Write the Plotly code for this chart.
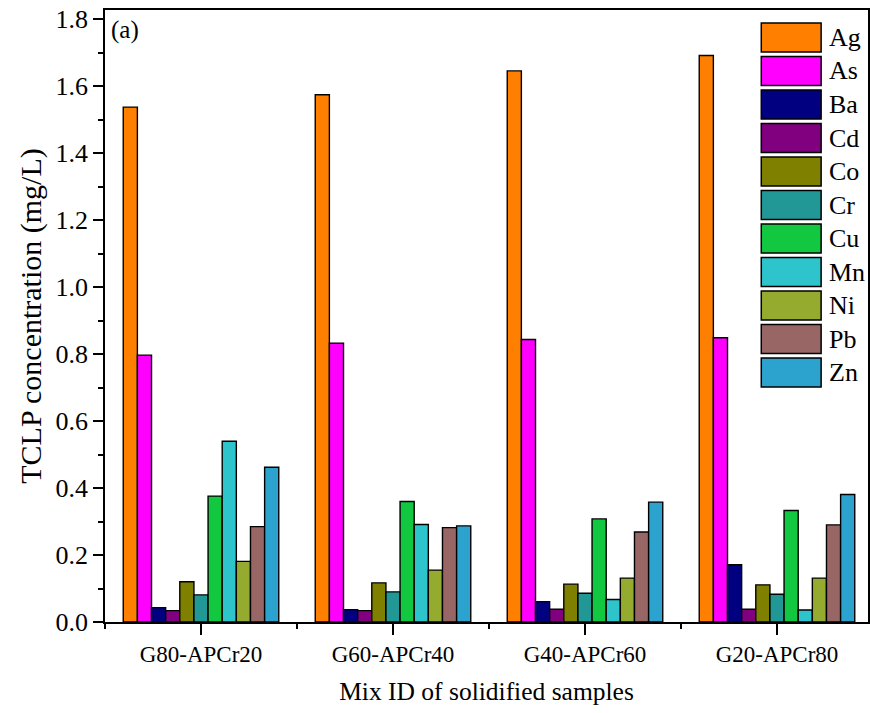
import plotly.graph_objects as go

# Solidified sample mixes (x categories)
mixes = ["G80-APCr20", "G60-APCr40", "G40-APCr60", "G20-APCr80"]

# Elements analysed by TCLP
elements = ["Ag", "As", "Ba", "Cd", "Co", "Cr", "Cu", "Mn", "Ni", "Pb", "Zn"]

# TCLP leachate concentration (mg/L) per element, one value per mix
ag = [1.538, 1.575, 1.646, 1.692]
as_ = [0.797, 0.833, 0.844, 0.849]
ba = [0.043, 0.037, 0.061, 0.171]
cd = [0.034, 0.034, 0.038, 0.038]
co = [0.120, 0.117, 0.113, 0.111]
cr = [0.081, 0.090, 0.086, 0.083]
cu = [0.376, 0.360, 0.308, 0.333]
mn = [0.540, 0.291, 0.067, 0.036]
ni = [0.181, 0.155, 0.131, 0.131]
pb = [0.285, 0.282, 0.269, 0.290]
zn = [0.462, 0.287, 0.358, 0.381]

series = [ag, as_, ba, cd, co, cr, cu, mn, ni, pb, zn]

colors = ["#FF8000", "#FF00FF", "#000080", "#800080", "#808000", "#219895",
          "#13C841", "#2EC4CB", "#95AB2F", "#996666", "#2CA3CE"]

FONT = "Liberation Serif, Times New Roman, serif"

W, H = 870, 713
ML, MR, MT, MB = 105, 0, 10, 91
plot_w = W - ML - MR
plot_h = H - MT - MB

fig = go.Figure()
xpos = list(range(len(mixes)))
for name, vals, col in zip(elements, series, colors):
    fig.add_trace(go.Bar(
        x=xpos, y=vals, name=name,
        marker=dict(color=col, line=dict(color="black", width=1.4)),
        showlegend=False,
    ))

# Legend drawn as large swatches with labels at the upper right
shapes = []
annotations = []
sw_x0, sw_x1 = 763, 823
top0, step, sw_h = 23, 33.5, 29


def px_x(px):
    return (px - ML) / plot_w


def px_y(py):
    return (MT + plot_h - py) / plot_h


for i, (name, col) in enumerate(zip(elements, colors)):
    y0 = top0 + i * step
    y1 = y0 + sw_h
    shapes.append(dict(
        type="rect", xref="paper", yref="paper",
        x0=px_x(sw_x0), x1=px_x(sw_x1), y0=px_y(y1), y1=px_y(y0),
        fillcolor=col, line=dict(color="black", width=1.5), layer="above",
    ))
    annotations.append(dict(
        xref="paper", yref="paper", x=px_x(829), y=px_y((y0 + y1) / 2),
        text=name, showarrow=False, xanchor="left", yanchor="middle",
        font=dict(family=FONT, size=26, color="black"),
    ))

# Panel label
annotations.append(dict(
    xref="paper", yref="paper", x=px_x(109), y=px_y(30),
    text="(a)", showarrow=False, xanchor="left", yanchor="middle",
    font=dict(family=FONT, size=25, color="black"),
))

fig.update_layout(
    width=W, height=H,
    margin=dict(l=ML, r=MR, t=MT, b=MB),
    paper_bgcolor="white", plot_bgcolor="white",
    barmode="group", bargap=0.19, bargroupgap=0,
    font=dict(family=FONT, color="black"),
    shapes=shapes, annotations=annotations,
    xaxis=dict(
        range=[-0.5, 3.474],
        tickmode="array", tickvals=xpos, ticktext=mixes,
        ticks="outside", ticklen=11, tickwidth=1.5, tickcolor="black",
        minor=dict(tickmode="array", tickvals=[-0.5, 0.5, 1.5, 2.5],
                   ticks="outside", ticklen=5, tickwidth=1.5, tickcolor="black"),
        showline=True, linecolor="black", linewidth=1.5, mirror=True,
        showgrid=False, zeroline=False,
        tickfont=dict(family=FONT, size=23),
        title=dict(text="Mix ID of solidified samples", standoff=16,
                   font=dict(family=FONT, size=25.5)),
    ),
    yaxis=dict(
        range=[0, plot_h / 334.8],
        tickmode="array", tickvals=[0, 0.2, 0.4, 0.6, 0.8, 1.0, 1.2, 1.4, 1.6, 1.8],
        tickformat=".1f",
        ticks="outside", ticklen=10, tickwidth=1.5, tickcolor="black",
        minor=dict(tickmode="array", tickvals=[0.1, 0.3, 0.5, 0.7, 0.9, 1.1, 1.3, 1.5, 1.7],
                   ticks="outside", ticklen=5, tickwidth=1.5, tickcolor="black"),
        showline=True, linecolor="black", linewidth=1.5, mirror=True,
        showgrid=False, zeroline=False,
        tickfont=dict(family=FONT, size=26),
        ticklabelstandoff=0,
        title=dict(text="TCLP concentration (mg/L)", standoff=5,
                   font=dict(family=FONT, size=30)),
    ),
)

fig.write_html("out.html")
